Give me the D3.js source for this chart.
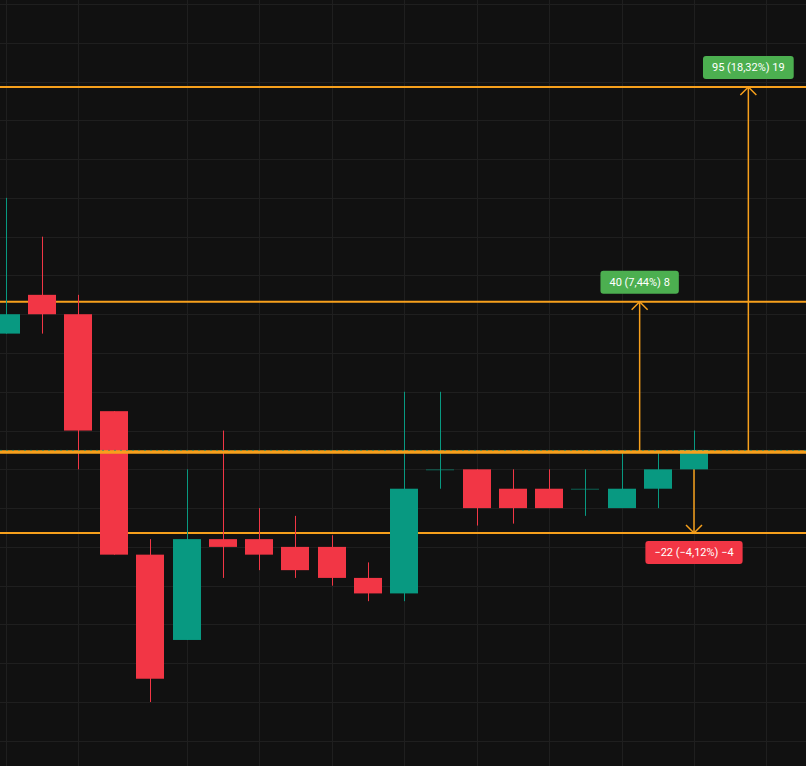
<!DOCTYPE html>
<html>
<head>
<meta charset="utf-8">
<script src="https://cdn.jsdelivr.net/npm/d3@7"></script>
<style>
  html, body { margin: 0; padding: 0; background: #111111; }
  svg { display: block; }
</style>
</head>
<body>
<svg id="chart" width="806" height="766"></svg>
<script>
// ---- data ----
const bars  = d3.range(20);
const open  = [565, 575, 570, 545, 508, 486, 512, 512, 510, 510, 502, 498, 530, 530, 525, 525, 525, 520, 525, 530];
const close = [570, 570, 540, 508, 476, 512, 510, 508, 504, 502, 498, 525, 530, 520, 520, 520, 525, 525, 530, 535];
const high  = [600, 590, 575, 545, 512, 530, 540, 520, 518, 513, 506, 550, 550, 530, 530, 530, 530, 534.5, 534.5, 540];
const low   = [565, 565, 530, 508, 470, 486, 502, 504, 502, 500, 496, 496, 525, 515.5, 516, 520, 518, 520, 520, 530];

const basePrice    = 534.5;
const targetPrices = [628.6, 573.2, 513.6];
const targetBars   = [20.5, 17.5, 19];
const targetLabels = ["95 (18,32%) 19", "40 (7,44%) 8", "\u221222 (\u22124,12%) \u22124"];

const priceGrid = d3.range(460, 660, 10);
const barGrid   = [0, 2, 5, 7, 9, 11, 13, 15, 17, 19, 21];

// ---- setup ----
const W = 806, H = 766;
const UP = "#089981", DOWN = "#f23645", ORANGE = "#f7a01c";
const svg = d3.select("#chart");

const x = d3.scaleLinear().domain([0, 19]).range([5.5, 694]);
const y = d3.scaleLinear().domain([650, 470]).range([4, 702]);
const bodyW = 28;

svg.append("rect").attr("width", W).attr("height", H).attr("fill", "#111111");

// grid
const grid = svg.append("g").attr("stroke", "#1f1f1f").attr("stroke-width", 1).attr("shape-rendering", "crispEdges");
grid.selectAll("line.h").data(priceGrid).join("line")
  .attr("x1", 0).attr("x2", W)
  .attr("y1", d => Math.round(y(d)) + 0.5).attr("y2", d => Math.round(y(d)) + 0.5);
grid.selectAll("line.v").data(barGrid).join("line")
  .attr("y1", 0).attr("y2", H)
  .attr("x1", d => Math.round(x(d)) + 0.5).attr("x2", d => Math.round(x(d)) + 0.5);

// target horizontal lines
svg.append("g").selectAll("line").data(targetPrices).join("line")
  .attr("x1", 0).attr("x2", W)
  .attr("y1", d => y(d)).attr("y2", d => y(d))
  .attr("stroke", ORANGE).attr("stroke-width", 2);

// arrows
const arrows = svg.append("g").attr("stroke", ORANGE).attr("fill", "none").attr("stroke-width", 1.5);
targetPrices.forEach((p, i) => {
  const ax = x(targetBars[i]);
  const ty = y(p), by = y(basePrice);
  const dir = p > basePrice ? 1 : -1;
  arrows.append("line").attr("x1", ax).attr("x2", ax).attr("y1", by).attr("y2", ty);
  arrows.append("path")
    .attr("d", `M${ax - 8},${ty + dir * 8} L${ax},${ty} L${ax + 8},${ty + dir * 8}`);
});

// candles
const candles = svg.append("g").selectAll("g").data(bars).join("g");
candles.append("line")
  .attr("x1", i => Math.round(x(i)) + 0.5).attr("x2", i => Math.round(x(i)) + 0.5)
  .attr("y1", i => y(high[i])).attr("y2", i => y(low[i]))
  .attr("stroke", i => close[i] >= open[i] ? UP : DOWN)
  .attr("stroke-width", 1);
candles.append("rect")
  .attr("x", i => Math.round(x(i)) - bodyW / 2)
  .attr("width", bodyW)
  .attr("y", i => y(Math.max(open[i], close[i])))
  .attr("height", i => Math.max(1, y(Math.min(open[i], close[i])) - y(Math.max(open[i], close[i]))))
  .attr("fill", i => close[i] >= open[i] ? UP : DOWN)
  .attr("opacity", i => open[i] === close[i] ? 0.6 : 1);

// base line (on top)
svg.append("line")
  .attr("x1", 0).attr("x2", W)
  .attr("y1", y(basePrice)).attr("y2", y(basePrice))
  .attr("stroke", ORANGE).attr("stroke-width", 3.5);
svg.append("line")
  .attr("x1", 0).attr("x2", W)
  .attr("y1", y(basePrice) - 1.5).attr("y2", y(basePrice) - 1.5)
  .attr("stroke", UP).attr("stroke-width", 1).attr("stroke-dasharray", "2,4").attr("opacity", 0.6);

// labels
const labels = svg.append("g").attr("font-family", "Roboto, 'Noto Sans', sans-serif").attr("font-size", 11);
targetPrices.forEach((p, i) => {
  const ax = x(targetBars[i]);
  const ty = y(p);
  const up = p > basePrice;
  const g = labels.append("g");
  const t = g.append("text")
    .attr("x", ax).attr("text-anchor", "middle")
    .attr("fill", "#ffffff")
    .text(targetLabels[i]);
  const tw = t.node().getComputedTextLength();
  const bw = tw + 18, bh = 23;
  const by = up ? ty - 8 - bh : ty + 8;
  g.insert("rect", "text")
    .attr("x", ax - bw / 2).attr("y", by)
    .attr("width", bw).attr("height", bh)
    .attr("rx", 3)
    .attr("fill", up ? "#4caf50" : DOWN);
  t.attr("y", by + bh / 2).attr("dy", "0.36em");
});
</script>
</body>
</html>
